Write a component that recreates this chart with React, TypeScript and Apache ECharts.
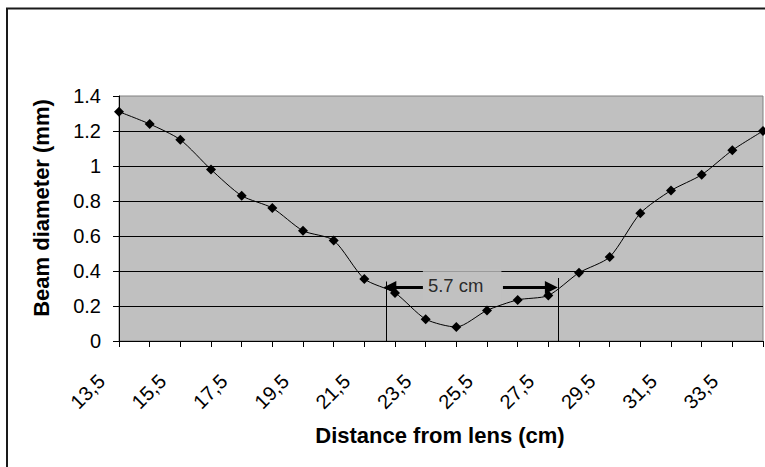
import React, { useEffect, useRef } from "react";
import * as echarts from "echarts";

const distances = [13.5, 14.5, 15.5, 16.5, 17.5, 18.5, 19.5, 20.5, 21.5, 22.5, 23.5, 24.5, 25.5, 26.5, 27.5, 28.5, 29.5, 30.5, 31.5, 32.5, 33.5, 34.5];
const diameters = [1.31, 1.24, 1.15, 0.98, 0.83, 0.76, 0.63, 0.575, 0.355, 0.275, 0.125, 0.08, 0.175, 0.235, 0.26, 0.39, 0.48, 0.73, 0.86, 0.95, 1.09, 1.2];
const yTicks = { min: 0, max: 1.4, interval: 0.2 };
const waistEdges = [22.2, 27.81];
const waistEdgeTops = [0.34, 0.36];
const arrowY = 0.306;
const leftArrow = [23.41, 22.33];
const rightArrow = [26.02, 27.6];
const waistLabel = { text: "5.7 cm", x: 24.69, y: 0.3185 };
const xTitle = "Distance from lens (cm)";
const yTitle = "Beam diameter (mm)";

const FONT = "'Liberation Sans', Arial, sans-serif";

export default function App() {
  const ref = useRef<HTMLDivElement>(null);
  useEffect(() => {
    if (!ref.current) return;
    const chart = echarts.init(ref.current, null, { renderer: "svg" });
    chart.setOption({
      animation: false,
      backgroundColor: "#ffffff",
      grid: {
        left: 119,
        right: 2,
        top: 96,
        bottom: 126,
        show: true,
        backgroundColor: "#C0C0C0",
        borderColor: "#808080",
        borderWidth: 1,
      },
      xAxis: [
        {
          type: "category",
          data: distances,
          boundaryGap: false,
          axisLine: { show: true, lineStyle: { color: "#000", width: 1 } },
          axisTick: { show: true, interval: 0, length: 6, lineStyle: { color: "#000" } },
          axisLabel: {
            interval: 1,
            rotate: 45,
            margin: 19,
            padding: [0, 25, 0, 0],
            fontFamily: FONT,
            fontSize: 20,
            color: "#000",
            formatter: (v: string) => String(v).replace(".", ","),
          },
          splitLine: { show: false },
        },
        {
          type: "value",
          min: distances[0],
          max: distances[distances.length - 1],
          show: false,
          position: "bottom",
        },
      ],
      yAxis: {
        type: "value",
        min: yTicks.min,
        max: yTicks.max,
        interval: yTicks.interval,
        axisLine: { show: true, lineStyle: { color: "#000", width: 1 } },
        axisTick: { show: true, length: 6, lineStyle: { color: "#000" } },
        axisLabel: { margin: 18, fontFamily: FONT, fontSize: 20, color: "#000" },
        splitLine: { show: true, showMaxLine: false, lineStyle: { color: "#000", width: 1 } },
      },
      series: [
        {
          type: "line",
          data: diameters,
          smooth: 0.25,
          symbol: "diamond",
          symbolSize: 10,
          lineStyle: { color: "#000", width: 1 },
          itemStyle: { color: "#000" },
          z: 3,
        },
        {
          type: "scatter",
          xAxisIndex: 1,
          yAxisIndex: 0,
          symbol: "rect",
          symbolSize: 1,
          itemStyle: { color: "rgba(0,0,0,0)" },
          data: [[waistLabel.x, waistLabel.y]],
          label: {
            show: true,
            position: "inside",
            formatter: waistLabel.text,
            fontFamily: FONT,
            fontSize: 18.5,
            lineHeight: 22,
            color: "#000",
            backgroundColor: "#C0C0C0",
            padding: [8, 18, 4, 5],
          },
          z: 4,
          markLine: {
            silent: true,
            animation: false,
            label: { show: false },
            data: [
              [
                { coord: [waistEdges[0], 0], symbol: "none" },
                { coord: [waistEdges[0], waistEdgeTops[0]], symbol: "none" },
              ],
              [
                { coord: [waistEdges[1], 0], symbol: "none" },
                { coord: [waistEdges[1], waistEdgeTops[1]], symbol: "none" },
              ],
              [
                { coord: [leftArrow[0], arrowY], symbol: "none", lineStyle: { width: 3 } },
                { coord: [leftArrow[1], arrowY], symbol: "triangle", symbolSize: [13, 13] },
              ],
              [
                { coord: [rightArrow[0], arrowY], symbol: "none", lineStyle: { width: 3 } },
                { coord: [rightArrow[1], arrowY], symbol: "triangle", symbolSize: [13, 13] },
              ],
            ],
            lineStyle: { color: "#000", type: "solid", width: 1 },
            itemStyle: { color: "#000" },
          },
        },
      ],
      graphic: [
        {
          type: "rect",
          shape: { x: 7, y: 8.5, width: 820, height: 520 },
          style: { fill: "none", stroke: "#1a1a1a", lineWidth: 2 },
          silent: true,
        },
        {
          type: "text",
          x: 41,
          y: 208,
          rotation: Math.PI / 2,
          style: {
            text: yTitle,
            fontFamily: FONT,
            fontWeight: "bold",
            fontSize: 22,
            fill: "#000",
            align: "center",
            verticalAlign: "middle",
          },
        },
        {
          type: "text",
          x: 440,
          y: 435,
          style: {
            text: xTitle,
            fontFamily: FONT,
            fontWeight: "bold",
            fontSize: 22,
            fill: "#000",
            align: "center",
            verticalAlign: "middle",
          },
        },
      ],
    });
    return () => chart.dispose();
  }, []);
  return (
    <div
      ref={ref}
      style={{ position: "fixed", left: 0, top: 0, width: 765, height: 467 }}
    />
  );
}
